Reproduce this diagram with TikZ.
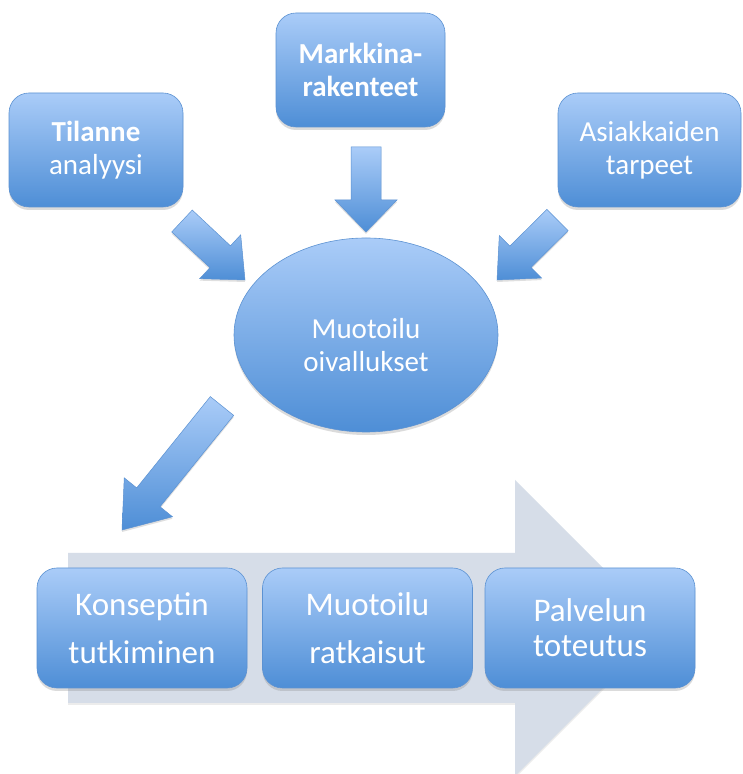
\documentclass[tikz,border=0pt]{standalone}
\usepackage{fontspec}
\setmainfont{Carlito}
\usetikzlibrary{calc,shadows,shapes.geometric}
\definecolor{boxtop}{RGB}{170,204,248}
\definecolor{boxbot}{RGB}{78,142,214}
\definecolor{boxline}{RGB}{92,146,210}
\definecolor{greyarrow}{RGB}{214,221,232}
\tikzset{
  box/.style={rectangle, rounded corners=20pt, top color=boxtop, bottom color=boxbot,
    draw=boxline, line width=0.6pt, text=white, align=center, inner sep=0pt,
    drop shadow={shadow xshift=0pt, shadow yshift=-3pt, opacity=0.28}},
  topbox/.style={box, minimum height=114pt, font=\fontsize{29}{33}\selectfont},
  bottombox/.style={box, minimum width=210pt, minimum height=120pt, font=\fontsize{33}{48}\selectfont},
  bubble/.style={ellipse, top color=boxtop, bottom color=boxbot, draw=boxline, line width=0.6pt,
    inner sep=0pt, minimum width=264pt, minimum height=194pt,
    drop shadow={shadow xshift=0pt, shadow yshift=-3pt, opacity=0.28}},
  bubbletext/.style={text=white, align=center, font=\fontsize{29}{33}\selectfont},
  arrowfill/.style={top color=boxtop, bottom color=boxbot, draw=boxline, line width=0.5pt,
    drop shadow={shadow xshift=0pt, shadow yshift=-2pt, opacity=0.25}},
  greyfill/.style={fill=greyarrow, drop shadow={shadow xshift=0pt, shadow yshift=-2pt, opacity=0.15}}
}
% tail, tip, head length, half shaft width, half head width
\newcommand\blockarrow[5]{%
  \coordinate (ba-b) at ($(#2)!#3!(#1)$);
  \path[arrowfill] ($(#1)!#4!90:(#2)$) -- ($(ba-b)!#4!90:(#2)$) -- ($(ba-b)!#5!90:(#2)$)
    -- (#2) -- ($(ba-b)!#5!-90:(#2)$) -- ($(ba-b)!#4!-90:(#2)$) -- ($(#1)!#4!-90:(#2)$) -- cycle;
}
\begin{document}
\begin{tikzpicture}[x=1pt,y=1pt]
\useasboundingbox (0,0) rectangle (743,774);
\fill[white] (0,0) rectangle (743,774);

% grey process arrow
\path[greyfill] (68,221) -- (515,221) -- (515,294) -- (663,146) -- (515,-2) -- (515,71) -- (68,71) -- cycle;

% top boxes
\node[topbox, minimum width=174pt] (tilanne) at (96,624) {\textbf{Tilanne}\\analyysi};
\node[topbox, minimum width=169pt] (markkina) at (360.5,704) {\textbf{Markkina-}\\\textbf{rakenteet}};
\node[topbox, minimum width=183pt] (asiakas) at (649.5,624) {Asiakkaiden\\tarpeet};

% central ellipse
\node[bubble] (muotoilu) at (366,439) {};
\node[bubbletext] (muotoilutext) at (366,429) {Muotoilu\\oivallukset};

% bottom boxes
\node[bottombox] (konsepti) at (142,146) {Konseptin\\tutkiminen};
\node[bottombox] (ratkaisut) at (367.5,146) {Muotoilu\\ratkaisut};
\node[bottombox, font=\fontsize{33}{35}\selectfont] (palvelu) at (590,146) {Palvelun\\toteutus};

% arrow end points
\coordinate (a1t) at (182,553);
\coordinate (a1h) at (245,494);
\coordinate (a2t) at (366,627);
\coordinate (a2h) at (366,542);
\coordinate (a3t) at (557.5,554);
\coordinate (a3h) at (497,494);
\coordinate (a4t) at (222,368);
\coordinate (a4h) at (122,244);

\blockarrow{a1t}{a1h}{34pt}{15pt}{30pt}
\blockarrow{a2t}{a2h}{32pt}{15pt}{31pt}
\blockarrow{a3t}{a3h}{33pt}{15pt}{30pt}
\blockarrow{a4t}{a4h}{42pt}{15pt}{31pt}
\end{tikzpicture}
\end{document}
